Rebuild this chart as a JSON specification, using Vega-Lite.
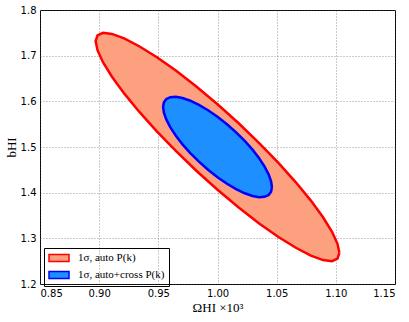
{
  "$schema": "https://vega.github.io/schema/vega-lite/v6.json",
  "width": 355,
  "height": 274,
  "autosize": "none",
  "padding": {"left": 40, "top": 10, "right": 14, "bottom": 38},
  "background": "white",
  "config": {
    "view": {"stroke": "black", "strokeWidth": 1},
    "axis": {
      "labelFont": "DejaVu Sans", "labelFontSize": 10, "labelColor": "black",
      "grid": true, "gridColor": "#555", "gridDash": [1, 2], "gridWidth": 0.6,
      "domain": false, "ticks": false, "labelPadding": 4,
      "titleFont": "Liberation Serif", "titleFontWeight": "normal", "titleColor": "black"
    }
  },
  "data": {"values": [
    {"s":"a","i":0,"x":1.103,"y":1.2682},{"s":"a","i":1,"x":1.1014,"y":1.2555},{"s":"a","i":2,"x":1.0968,"y":1.2501},{"s":"a","i":3,"x":1.0892,"y":1.2524},{"s":"a","i":4,"x":1.0789,"y":1.2622},{"s":"a","i":5,"x":1.0662,"y":1.2793},{"s":"a","i":6,"x":1.0515,"y":1.303},{"s":"a","i":7,"x":1.0352,"y":1.3327},{"s":"a","i":8,"x":1.0179,"y":1.3675},{"s":"a","i":9,"x":1.0,"y":1.4063},{"s":"a","i":10,"x":0.9821,"y":1.448},{"s":"a","i":11,"x":0.9648,"y":1.4913},{"s":"a","i":12,"x":0.9485,"y":1.5348},{"s":"a","i":13,"x":0.9338,"y":1.5773},{"s":"a","i":14,"x":0.9211,"y":1.6174},{"s":"a","i":15,"x":0.9108,"y":1.6539},{"s":"a","i":16,"x":0.9032,"y":1.6858},{"s":"a","i":17,"x":0.8986,"y":1.712},{"s":"a","i":18,"x":0.897,"y":1.7318},{"s":"a","i":19,"x":0.8986,"y":1.7445},{"s":"a","i":20,"x":0.9032,"y":1.7499},{"s":"a","i":21,"x":0.9108,"y":1.7476},{"s":"a","i":22,"x":0.9211,"y":1.7378},{"s":"a","i":23,"x":0.9338,"y":1.7207},{"s":"a","i":24,"x":0.9485,"y":1.697},{"s":"a","i":25,"x":0.9648,"y":1.6673},{"s":"a","i":26,"x":0.9821,"y":1.6325},{"s":"a","i":27,"x":1.0,"y":1.5937},{"s":"a","i":28,"x":1.0179,"y":1.552},{"s":"a","i":29,"x":1.0352,"y":1.5087},{"s":"a","i":30,"x":1.0515,"y":1.4652},{"s":"a","i":31,"x":1.0662,"y":1.4227},{"s":"a","i":32,"x":1.0789,"y":1.3826},{"s":"a","i":33,"x":1.0892,"y":1.3461},{"s":"a","i":34,"x":1.0968,"y":1.3142},{"s":"a","i":35,"x":1.1014,"y":1.288},{"s":"a","i":36,"x":1.103,"y":1.2682},
    {"s":"b","i":0,"x":1.046,"y":1.4122},{"s":"b","i":1,"x":1.0453,"y":1.402},{"s":"b","i":2,"x":1.0432,"y":1.3948},{"s":"b","i":3,"x":1.0398,"y":1.3908},{"s":"b","i":4,"x":1.0352,"y":1.3902},{"s":"b","i":5,"x":1.0296,"y":1.3928},{"s":"b","i":6,"x":1.023,"y":1.3987},{"s":"b","i":7,"x":1.0157,"y":1.4077},{"s":"b","i":8,"x":1.008,"y":1.4195},{"s":"b","i":9,"x":1.0,"y":1.4338},{"s":"b","i":10,"x":0.992,"y":1.4501},{"s":"b","i":11,"x":0.9843,"y":1.4678},{"s":"b","i":12,"x":0.977,"y":1.4866},{"s":"b","i":13,"x":0.9704,"y":1.5058},{"s":"b","i":14,"x":0.9648,"y":1.5248},{"s":"b","i":15,"x":0.9602,"y":1.543},{"s":"b","i":16,"x":0.9568,"y":1.5599},{"s":"b","i":17,"x":0.9547,"y":1.575},{"s":"b","i":18,"x":0.954,"y":1.5878},{"s":"b","i":19,"x":0.9547,"y":1.598},{"s":"b","i":20,"x":0.9568,"y":1.6052},{"s":"b","i":21,"x":0.9602,"y":1.6092},{"s":"b","i":22,"x":0.9648,"y":1.6098},{"s":"b","i":23,"x":0.9704,"y":1.6072},{"s":"b","i":24,"x":0.977,"y":1.6013},{"s":"b","i":25,"x":0.9843,"y":1.5923},{"s":"b","i":26,"x":0.992,"y":1.5805},{"s":"b","i":27,"x":1.0,"y":1.5662},{"s":"b","i":28,"x":1.008,"y":1.5499},{"s":"b","i":29,"x":1.0157,"y":1.5322},{"s":"b","i":30,"x":1.023,"y":1.5134},{"s":"b","i":31,"x":1.0296,"y":1.4942},{"s":"b","i":32,"x":1.0352,"y":1.4752},{"s":"b","i":33,"x":1.0398,"y":1.457},{"s":"b","i":34,"x":1.0432,"y":1.4401},{"s":"b","i":35,"x":1.0453,"y":1.425},{"s":"b","i":36,"x":1.046,"y":1.4122}
  ]},
  "encoding": {
    "x": {"field": "x", "type": "quantitative", "scale": {"domain": [0.85, 1.15], "nice": false, "zero": false},
      "axis": {"values": [0.85, 0.9, 0.95, 1.0, 1.05, 1.1, 1.15], "format": ".2f", "title": "ΩHI ×10³", "titleFontSize": 13, "titlePadding": 3}},
    "y": {"field": "y", "type": "quantitative", "scale": {"domain": [1.2, 1.8], "nice": false, "zero": false},
      "axis": {"values": [1.2, 1.3, 1.4, 1.5, 1.6, 1.7, 1.8], "format": ".1f", "title": "bHI", "titleFontSize": 13, "titlePadding": 2}},
    "order": {"field": "i", "type": "quantitative"},
    "fill": {"field": "s", "type": "nominal", "scale": {"domain": ["a", "b"], "range": ["#FCA07F", "#1E8FFF"]},
      "legend": {"title": null, "orient": "none", "legendX": 4, "legendY": 238, "strokeColor": "black", "padding": 4,
        "symbolType": "M-2,-0.7L2,-0.7L2,0.7L-2,0.7Z", "symbolSize": 100, "symbolStrokeWidth": 1.5, "symbolOffset": 5,
        "labelFont": "Liberation Serif", "labelFontSize": 11, "labelColor": "black", "rowPadding": 3, "labelOffset": 13,
        "labelExpr": "datum.label == 'a' ? '1σ, auto P(k)' : '1σ, auto+cross P(k)'"}},
    "stroke": {"field": "s", "type": "nominal", "scale": {"domain": ["a", "b"], "range": ["#FF0000", "#0000FF"]},
      "legend": {"title": null, "orient": "none", "legendX": 4, "legendY": 238, "strokeColor": "black", "padding": 4,
        "symbolType": "M-2,-0.7L2,-0.7L2,0.7L-2,0.7Z", "symbolSize": 100, "symbolStrokeWidth": 1.5, "symbolOffset": 5,
        "labelFont": "Liberation Serif", "labelFontSize": 11, "labelColor": "black", "rowPadding": 3, "labelOffset": 13,
        "labelExpr": "datum.label == 'a' ? '1σ, auto P(k)' : '1σ, auto+cross P(k)'"}}
  },
  "layer": [
    {"transform": [{"filter": "datum.s == 'a'"}], "mark": {"type": "line", "strokeWidth": 2.5, "fillOpacity": 1}},
    {"transform": [{"filter": "datum.s == 'b'"}], "mark": {"type": "line", "strokeWidth": 2.5, "fillOpacity": 1}}
  ]
}
